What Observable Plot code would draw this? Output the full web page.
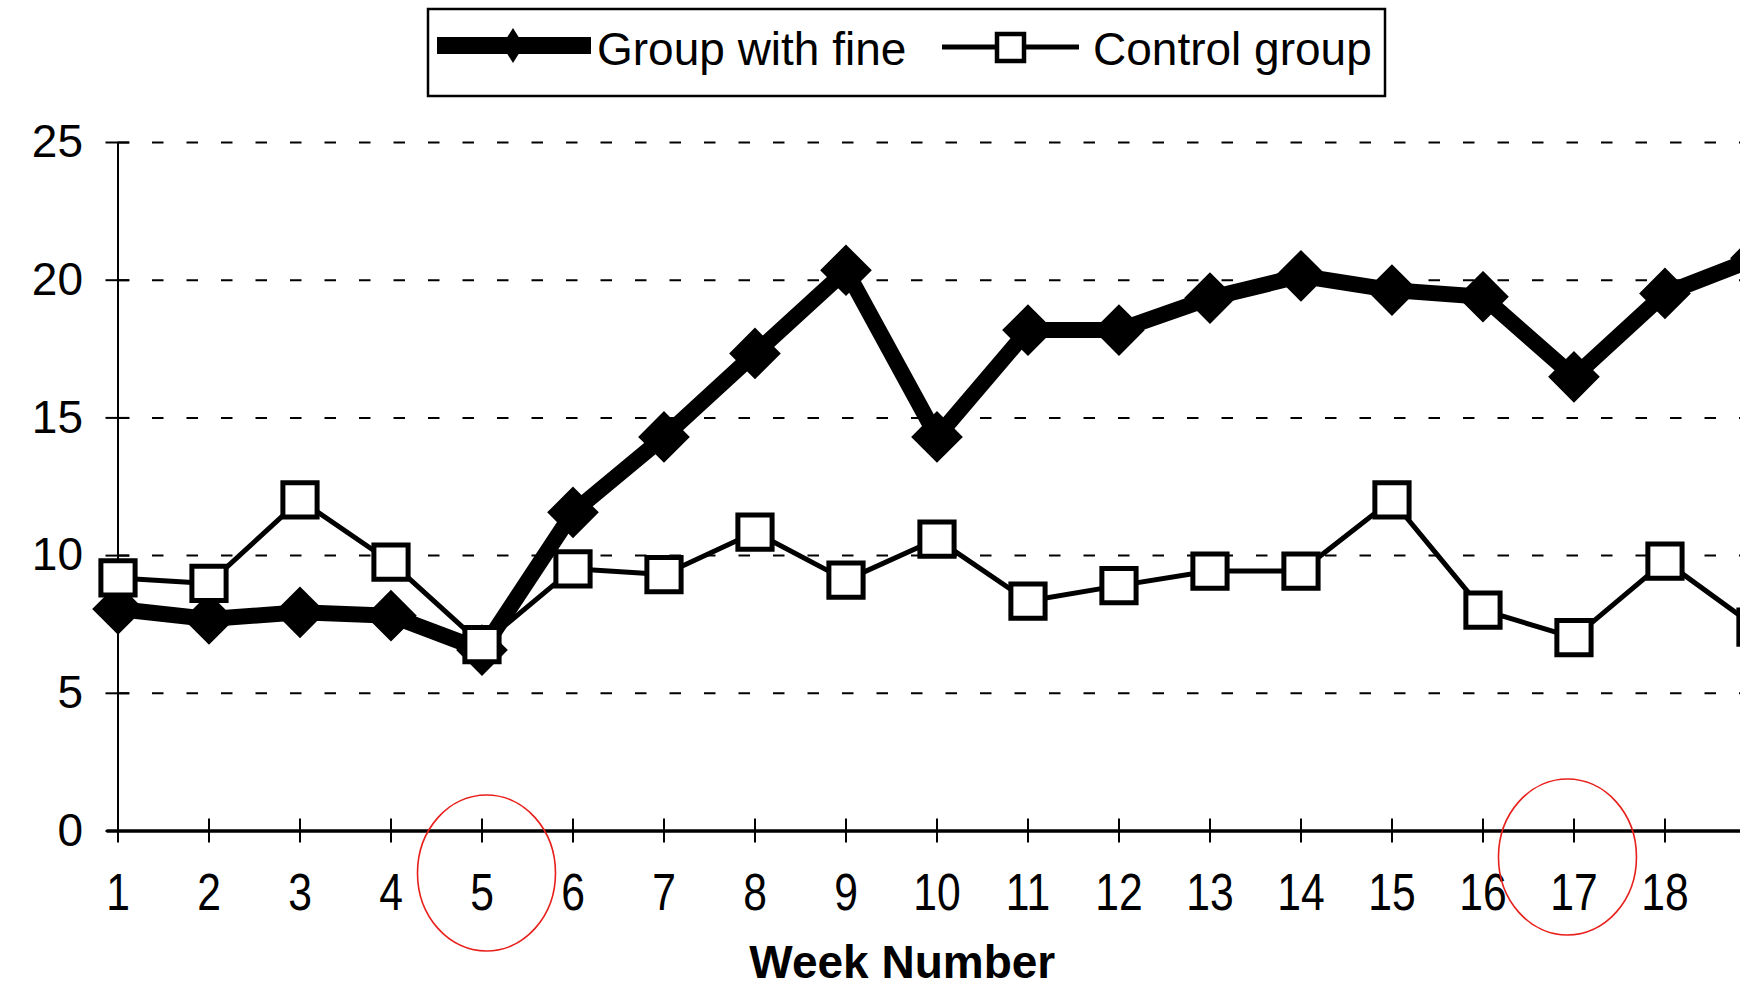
<!DOCTYPE html>
<html>
<head>
<meta charset="utf-8">
<script src="https://cdn.jsdelivr.net/npm/d3@7"></script>
<script src="https://cdn.jsdelivr.net/npm/@observablehq/plot@0.6"></script>
<style>
  html, body { margin: 0; padding: 0; background: #fff; overflow: hidden; width: 1740px; height: 988px; }
  #header { position: relative; width: 1740px; height: 100px; }
  #header svg { position: absolute; left: 0; top: 0; }
  #chart svg { display: block; }
</style>
</head>
<body>
<div id="header"></div>
<div id="chart"></div>
<script>
// ---- data ----
const weeks = [1, 2, 3, 4, 5, 6, 7, 8, 9, 10, 11, 12, 13, 14, 15, 16, 17, 18, 19];
const fineGroup = [8.06, 7.7, 7.94, 7.82, 6.57, 11.57, 14.31, 17.34, 20.36, 14.31, 18.19, 18.19, 19.35, 20.16, 19.64, 19.4, 16.49, 19.52, 20.8];
const controlGroup = [9.19, 8.99, 12.02, 9.76, 6.77, 9.52, 9.31, 10.85, 9.11, 10.6, 8.35, 8.91, 9.44, 9.44, 12.02, 8.02, 7.02, 9.8, 7.4];
const weekTicks = [1, 2, 3, 4, 5, 6, 7, 8, 9, 10, 11, 12, 13, 14, 15, 16, 17, 18];
const yTicks = [0, 5, 10, 15, 20, 25];
const gridValues = [5, 10, 15, 20, 25];
const seriesNames = ["Group with fine", "Control group"];
const xTitle = "Week Number";
const highlightWeeks = [5, 17];

const fineData = weeks.map((w, i) => ({week: w, value: fineGroup[i]}));
const controlData = weeks.map((w, i) => ({week: w, value: controlGroup[i]}));

// ---- legend (above the plot) ----
const leg = d3.select("#header").append("svg").attr("width", 1740).attr("height", 100);
leg.append("rect").attr("x", 428).attr("y", 9).attr("width", 957).attr("height", 87)
  .attr("fill", "#fff").attr("stroke", "#000").attr("stroke-width", 2.5);
leg.append("line").attr("x1", 437).attr("x2", 591).attr("y1", 45.5).attr("y2", 45.5)
  .attr("stroke", "#000").attr("stroke-width", 17);
leg.append("path").attr("d", "M513,28L524,45.5L513,63L502,45.5Z").attr("fill", "#000");
leg.append("text").attr("x", 597).attr("y", 65).text(seriesNames[0])
  .attr("font-family", "Liberation Sans, Arial, sans-serif").attr("font-size", 46).attr("fill", "#000");
leg.append("line").attr("x1", 942).attr("x2", 1079).attr("y1", 47).attr("y2", 47)
  .attr("stroke", "#000").attr("stroke-width", 5);
leg.append("rect").attr("x", 997).attr("y", 34).attr("width", 27).attr("height", 27)
  .attr("fill", "#fff").attr("stroke", "#000").attr("stroke-width", 4.5);
leg.append("text").attr("x", 1093).attr("y", 65).text(seriesNames[1])
  .attr("font-family", "Liberation Sans, Arial, sans-serif").attr("font-size", 46).attr("fill", "#000");

// ---- plot ----
const plot = Plot.plot({
  width: 1740,
  height: 888,
  marginTop: 42,
  marginBottom: 157.5,
  marginLeft: 117.5,
  marginRight: 0,
  x: {domain: [1, 18.83], label: null},
  y: {domain: [0, 25], label: null},
  style: {background: "#fff", fontFamily: "Liberation Sans, Arial, sans-serif", color: "#000"},
  marks: [
    Plot.ruleY(gridValues, {stroke: "#000", strokeWidth: 2, strokeDasharray: "11.5,23"}),
    Plot.ruleX([1], {y1: 0, y2: 25, stroke: "#000", strokeWidth: 2}),
    Plot.ruleY([0], {stroke: "#000", strokeWidth: 3.5, insetLeft: -11}),
    Plot.ruleY(yTicks, {x1: 1, x2: 1, insetLeft: -12, insetRight: -12, stroke: "#000", strokeWidth: 2}),
    Plot.ruleX(weekTicks, {y1: 0, y2: 0, insetTop: -12, insetBottom: -12, stroke: "#000", strokeWidth: 2}),
    Plot.axisY({ticks: yTicks, tickSize: 0, tickPadding: 35, fontSize: 46, tickFormat: d => String(d), label: null}),
    Plot.axisX({ticks: weekTicks, tickSize: 0, tickPadding: 42, fontSize: 52, tickFormat: d => String(d), label: null}),
    Plot.text([xTitle], {frameAnchor: "bottom", dx: -27, dy: 132, lineAnchor: "middle", fontWeight: "bold", fontSize: 46, fill: "#000"}),
    Plot.line(fineData, {x: "week", y: "value", stroke: "#000", strokeWidth: 16, strokeLinejoin: "round"}),
    Plot.dot(fineData, {x: "week", y: "value", symbol: "diamond2", r: 22, fill: "#000", stroke: "#000", strokeWidth: 2}),
    Plot.line(controlData, {x: "week", y: "value", stroke: "#000", strokeWidth: 5}),
    Plot.dot(controlData, {x: "week", y: "value", symbol: "square", r: 19.3, fill: "#fff", stroke: "#000", strokeWidth: 5})
  ]
});

// red annotation ellipses around highlighted week labels
const xs = plot.scale("x"), ys = plot.scale("y");
const ellipseDx = [5, -6], ellipseDy = [42.5, 26.5];
d3.select(plot).append("g").selectAll("ellipse").data(highlightWeeks).join("ellipse")
  .attr("cx", (d, i) => xs.apply(d) + ellipseDx[i])
  .attr("cy", (d, i) => ys.apply(0) + ellipseDy[i])
  .attr("rx", 69).attr("ry", 78)
  .attr("fill", "none").attr("stroke", "#e8201c").attr("stroke-width", 1.6);

document.getElementById("chart").appendChild(plot);

// condense the week tick labels horizontally, like the original's narrow digits
d3.select(plot).selectAll('g[aria-label="x-axis tick label"] text').each(function () {
  const b = this.getBBox();
  const cx = b.x + b.width / 2;
  const t = this.getAttribute("transform") || "";
  this.setAttribute("transform", `${t} translate(${cx},0) scale(0.82,1) translate(${-cx},0)`);
});
</script>
</body>
</html>
